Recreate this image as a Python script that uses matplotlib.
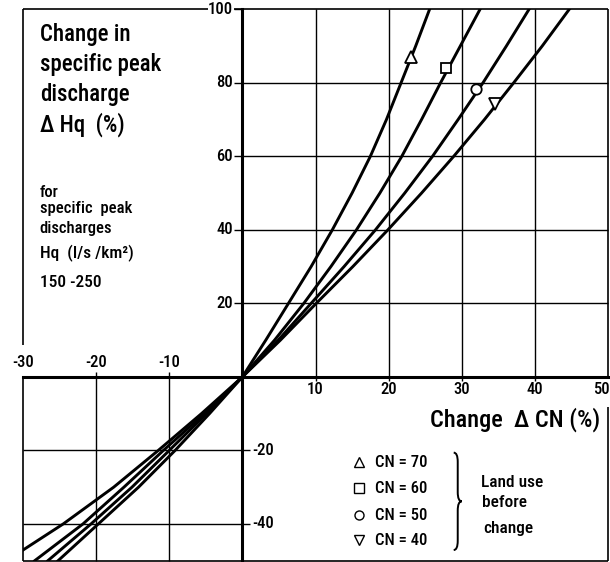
import matplotlib
matplotlib.use("Agg")
import matplotlib.pyplot as plt
from matplotlib import font_manager
from matplotlib.path import Path
from matplotlib.patches import PathPatch

# ---------------------------------------------------------------
# data: change in CN (%) vs change in Hq (%)
# ---------------------------------------------------------------
cn_values = [70, 60, 50, 40]

dhq_levels = [-50, -40, -30, -20, -10, 0, 10, 20, 30, 40, 50, 60, 70, 80, 90, 100]

cn70_dcn = [-25.2, -19.7, -14.2, -9.2, -4.5, 0.0, 3.2, 6.3, 9.4, 12.3,
            15.0, 17.5, 19.7, 21.7, 23.7, 25.6]
cn60_dcn = [-26.6, -20.7, -15.1, -10.0, -4.9, 0.0, 4.4, 8.4, 12.1, 15.6,
            18.8, 21.8, 24.5, 27.1, 29.8, 32.5]
cn50_dcn = [-28.4, -21.8, -16.2, -10.8, -5.2, 0.0, 4.9, 9.4, 13.9, 18.2,
            22.2, 26.0, 29.5, 32.9, 36.1, 39.2]
cn40_dcn = [-30.0, -24.5, -17.6, -11.5, -5.6, 0.0, 5.2, 10.1, 15.1, 19.9,
            24.5, 28.9, 33.1, 37.1, 41.0, 44.7]
# the CN 40 curve leaves through the left border, not the bottom one
cn40_dhq = [-47.1] + dhq_levels[1:]

marker_dcn = [23.1, 27.9, 32.0, 34.6]
marker_dhq = [87.1, 83.9, 78.4, 74.3]
marker_shapes = ["^", "s", "o", "v"]

x_ticks_neg = [-30, -20, -10]
x_ticks_pos = [10, 20, 30, 40, 50]
y_ticks_pos = [20, 40, 60, 80, 100]
y_ticks_neg = [-20, -40]

# narrow lettering if we have it
available = {f.name for f in font_manager.fontManager.ttflist}
FONT = "DejaVu Sans"
for name in ["Roboto Condensed", "Liberation Sans Narrow", "DejaVu Sans"]:
    if name in available:
        FONT = name
        break
plt.rcParams["font.family"] = [FONT, "DejaVu Sans"]
plt.rcParams["font.weight"] = "medium"

fig = plt.figure(figsize=(6.1, 5.62), dpi=100)
ax = fig.add_axes([23 / 610, 1.3 / 562, 585 / 610, 551.4 / 562])
ax.set_xlim(-30, 50)
ax.set_ylim(-50, 100)
ax.axis("off")

K = "black"
grid_kw = dict(color=K, lw=1.0, clip_on=False, solid_capstyle="butt")
frame_kw = dict(color=K, lw=1.2, clip_on=False, solid_capstyle="butt")

# frame with gaps for labels
ax.plot([-30, -30], [100, 8.7], **frame_kw)
ax.plot([-30, -30], [0, -50], **frame_kw)
ax.plot([-30, -4.7], [100, 100], **frame_kw)
ax.plot([-1.2, 50], [100, 100], **frame_kw)
ax.plot([50, 50], [100, 0], **frame_kw)
ax.plot([50, 50], [-8.2, -50], **frame_kw)
ax.plot([-30, 50], [-50, -50], **frame_kw)

# grids only in the two data quadrants
for y in y_ticks_pos[:-1]:
    ax.plot([-1.2, 50], [y, y], **grid_kw)
ax.plot([-1.2, 0], [100, 100], **grid_kw)
for x in x_ticks_pos[:-1]:
    ax.plot([x, x], [-1.0, 100], **grid_kw)
for y in y_ticks_neg:
    ax.plot([-30, 1.0], [y, y], **grid_kw)
for x in x_ticks_neg[1:]:
    ax.plot([x, x], [1.4, -50], **grid_kw)

# main axes through origin
ax.plot([-30, 50], [0, 0], color=K, lw=2.2, clip_on=False)
ax.plot([0, 0], [-50, 100], color=K, lw=2.2, clip_on=False)

# tick labels
tick_fs = 12
for y in y_ticks_pos:
    ax.text(-1.3, y, str(y), ha="right", va="center", fontsize=tick_fs)
for y in y_ticks_neg:
    ax.text(1.4, y, str(y), ha="left", va="center", fontsize=tick_fs)
for x in x_ticks_neg:
    ax.text(x, 1.8, str(x), ha="center", va="bottom", fontsize=tick_fs)
for x in x_ticks_pos[:-1]:
    ax.text(x, -1.3, str(x), ha="center", va="top", fontsize=tick_fs)
ax.text(50.25, -1.3, str(x_ticks_pos[-1]), ha="right", va="top", fontsize=tick_fs)

# curves
curves = [(cn70_dcn, dhq_levels), (cn60_dcn, dhq_levels),
          (cn50_dcn, dhq_levels), (cn40_dcn, cn40_dhq)]
for xs, ys in curves:
    ax.plot(xs, ys, color=K, lw=2.1, solid_joinstyle="round")

for mx, my, m in zip(marker_dcn, marker_dhq, marker_shapes):
    ax.plot(mx, my, marker=m, ms=7.5 if m in "so" else 8.5, mfc="white",
            mec=K, mew=1.3, ls="none", zorder=5)

# texts in the empty quadrants
big_fs = 16.5
for txt, y in zip(["Change in", "specific peak", "discharge", "\u0394 Hq  (%)"],
                  [91.4, 83.1, 75.0, 66.8]):
    ax.text(-27.7, y, txt, fontsize=big_fs, va="baseline", ha="left")

small = [("for", 49.0, 12), ("specific  peak", 44.5, 12),
         ("discharges", 39.1, 12), ("Hq  (l/s /km\u00b2)", 32.3, 12.5),
         ("150 -250", 24.5, 12.5)]
for txt, y, fs in small:
    ax.text(-27.7, y, txt, fontsize=fs, va="baseline", ha="left")

ax.text(48.9, -13.5, "Change  \u0394 CN (%)", fontsize=17.5, ha="right",
        va="baseline")

# legend
leg_y = [-23.2, -30.3, -37.6, -44.4]
for m, cn, y in zip(marker_shapes, cn_values, leg_y):
    ax.plot(15.95, y, marker=m, ms=6.5 if m in "so" else 7, mfc="white",
            mec=K, mew=1.0, ls="none")
    ax.text(18.1, y, f"CN = {cn}", fontsize=12, ha="left", va="center")

# curly brace
x0, w = 28.9, 0.55
ytop, ybot = -20.6, -47.1
ymid = (ytop + ybot) / 2
d = 2.5
verts = [(x0, ytop), (x0 + w, ytop), (x0 + w, ytop - d),
         (x0 + w, ymid + d),
         (x0 + w, ymid), (x0 + 2 * w, ymid),
         (x0 + w, ymid), (x0 + w, ymid - d),
         (x0 + w, ybot + d),
         (x0 + w, ybot), (x0, ybot)]
codes = [Path.MOVETO, Path.CURVE3, Path.CURVE3, Path.LINETO,
         Path.CURVE3, Path.CURVE3, Path.CURVE3, Path.CURVE3,
         Path.LINETO, Path.CURVE3, Path.CURVE3]
ax.add_patch(PathPatch(Path(verts, codes), fill=False, lw=1.4, ec=K))

ax.text(32.6, -29.9, "Land use", fontsize=12.5, va="baseline")
ax.text(32.8, -35.5, "before", fontsize=12.5, va="baseline")
ax.text(33.0, -42.5, "change", fontsize=12.5, va="baseline")

fig.savefig("out.png", dpi=100)
